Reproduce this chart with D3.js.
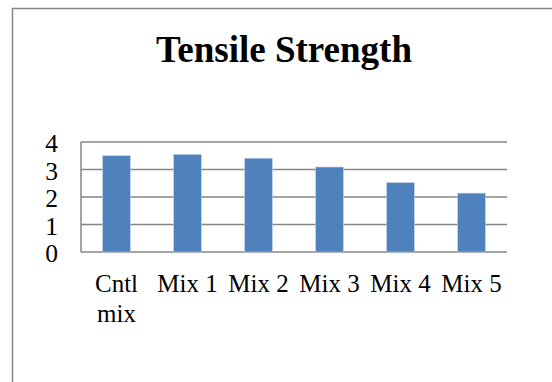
<!DOCTYPE html>
<html>
<head>
<meta charset="utf-8">
<script src="https://cdn.jsdelivr.net/npm/d3@7"></script>
<style>
  html, body { margin: 0; padding: 0; background: #fff; }
  svg { display: block; }
  text { font-family: "Liberation Serif", "Times New Roman", serif; fill: #000; }
</style>
</head>
<body>
<script>
// Tensile strength per mix
const categories = ["Cntl mix", "Mix 1", "Mix 2", "Mix 3", "Mix 4", "Mix 5"];
const values = [3.50, 3.55, 3.41, 3.09, 2.52, 2.14];
const yTicks = [0, 1, 2, 3, 4];
const title = "Tensile Strength";

const W = 552, H = 382;
const svg = d3.select("body").append("svg").attr("width", W).attr("height", H);

// chart frame
svg.append("rect")
  .attr("x", 12.5).attr("y", 8.5)
  .attr("width", 560).attr("height", 400)
  .attr("fill", "#fff").attr("stroke", "#868686").attr("stroke-width", 1.5);

svg.append("text")
  .attr("x", 284).attr("y", 62)
  .attr("text-anchor", "middle")
  .attr("font-size", 37).attr("font-weight", "bold")
  .text(title);

const plot = { left: 81, right: 507, top: 142, bottom: 252 };

const x = d3.scaleBand().domain(categories)
  .range([plot.left, plot.right]).paddingInner(0.61).paddingOuter(0.305);
const y = d3.scaleLinear().domain([0, 4]).range([plot.bottom, plot.top]);

// horizontal gridlines
svg.append("g").selectAll("line").data(yTicks).join("line")
  .attr("x1", plot.left).attr("x2", plot.right)
  .attr("y1", d => y(d)).attr("y2", d => y(d))
  .attr("stroke", "#868686").attr("stroke-width", 1.5);

// value axis line
svg.append("line")
  .attr("x1", plot.left).attr("x2", plot.left)
  .attr("y1", plot.top).attr("y2", plot.bottom)
  .attr("stroke", "#868686").attr("stroke-width", 1.5);

// bars
svg.append("g").selectAll("rect").data(values).join("rect")
  .attr("x", (d, i) => x(categories[i]))
  .attr("width", x.bandwidth())
  .attr("y", d => y(d))
  .attr("height", d => y(0) - y(d))
  .attr("fill", "#4F81BD")
  .attr("stroke", "#bcd0e8").attr("stroke-width", 0.6);

// value axis labels
svg.append("g").selectAll("text").data(yTicks).join("text")
  .attr("x", 58).attr("y", d => y(d) + 10)
  .attr("text-anchor", "end")
  .attr("font-size", 25.5)
  .text(d => d);

// category labels, wrapped onto two lines where needed
const catBand = d3.scaleBand().domain(categories).range([plot.left, plot.right]);
const lab = svg.append("g").selectAll("text").data(categories).join("text")
  .attr("font-size", 25)
  .attr("text-anchor", "middle");
lab.each(function(d) {
  const cx = catBand(d) + catBand.bandwidth() / 2;
  const parts = d === "Cntl mix" ? ["Cntl", "mix"] : [d];
  d3.select(this).selectAll("tspan").data(parts).join("tspan")
    .attr("x", cx)
    .attr("y", (p, j) => 292 + j * 30)
    .text(p => p);
});
</script>
</body>
</html>
